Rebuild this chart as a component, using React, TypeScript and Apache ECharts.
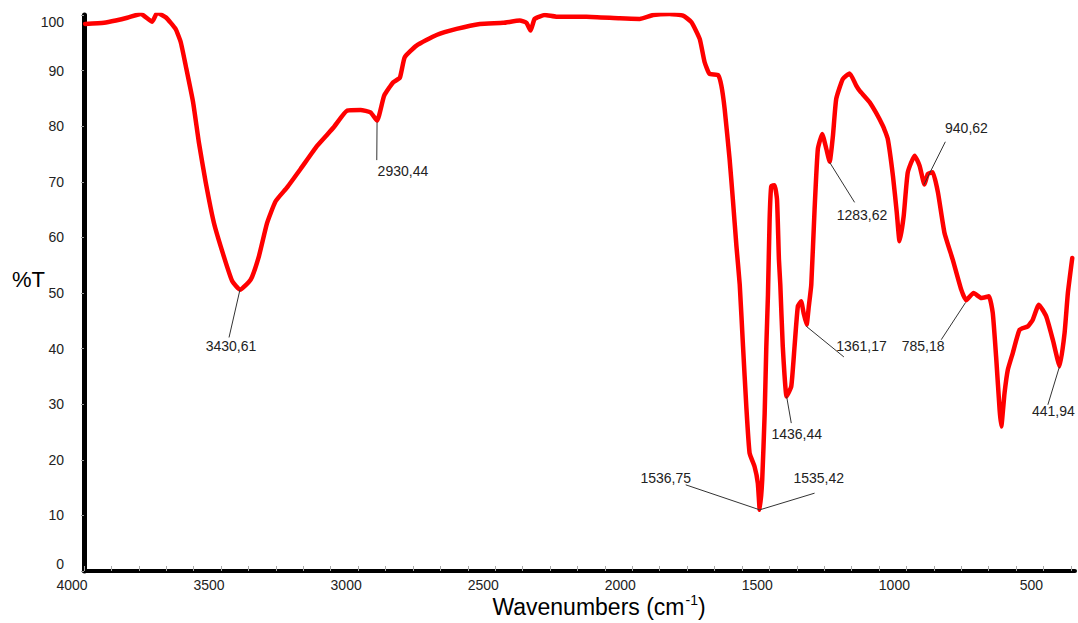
import React, { useEffect, useRef } from 'react';
import * as echarts from 'echarts';

const wavenumbers = [
  3996, 3927, 3884, 3842, 3793, 3751, 3733, 3702, 3666, 3647, 3629, 3602, 3581, 3556, 3526, 3490, 3459, 3431,
  3392, 3362, 3332, 3301, 3259, 3210, 3149, 3089, 3040, 2991, 2955, 2931, 2905, 2872, 2848, 2830, 2787, 2714,
  2641, 2556, 2471, 2410, 2386, 2371, 2356, 2319, 2277, 2167, 2046, 1973, 1924, 1864, 1815, 1784, 1754, 1736,
  1718, 1687, 1675, 1663, 1645, 1633, 1620, 1608, 1596, 1584, 1572, 1554, 1542, 1535, 1526, 1517, 1511, 1505,
  1499, 1493, 1481, 1472, 1465, 1460, 1451, 1437, 1420, 1408, 1396, 1384, 1375, 1364, 1356, 1347, 1335, 1323,
  1307, 1292, 1280, 1268, 1256, 1232, 1207, 1183, 1171, 1134, 1086, 1068, 1049, 1035, 1025, 1010, 995, 970,
  952, 934, 922, 904, 885, 861, 831, 800, 782, 755, 727, 699, 685, 672, 660, 654, 642, 630, 612, 587, 557, 539,
  517, 490, 466, 441, 423, 411, 395,
];

const transmittance = [
  98.4, 98.6, 99.0, 99.5, 100.2, 98.8, 100.4, 99.6, 97.5, 95.1, 90.9, 84.3, 77.1, 69.9, 62.6, 56.6, 52.1, 50.6,
  52.4, 56.6, 62.6, 66.5, 69.0, 72.3, 76.5, 79.8, 82.8, 82.9, 82.5, 81.0, 85.5, 87.9, 88.7, 92.4, 94.5, 96.4,
  97.5, 98.4, 98.6, 99.0, 98.6, 97.2, 99.3, 100.0, 99.7, 99.7, 99.4, 99.3, 100.0, 100.2, 99.9, 98.7, 95.7, 91.5,
  89.4, 89.2, 87.3, 83.1, 74.1, 66.8, 58.4, 51.5, 40.4, 29.6, 21.2, 18.8, 15.8, 11.0, 16.4, 28.4, 40.4, 49.7,
  63.2, 69.2, 69.4, 66.8, 56.0, 51.5, 40.4, 31.4, 33.2, 40.4, 47.6, 48.5, 46.4, 44.3, 47.6, 51.5, 65.0, 75.9,
  78.6, 75.9, 73.6, 78.3, 84.9, 88.5, 89.5, 87.3, 86.4, 84.3, 80.1, 77.7, 71.0, 64.4, 59.3, 63.8, 71.7, 74.7,
  72.9, 69.5, 71.4, 71.7, 68.1, 60.8, 56.0, 50.6, 48.7, 50.0, 49.1, 49.4, 46.4, 38.0, 29.0, 26.0, 32.0, 36.2,
  39.2, 43.4, 44.0, 45.2, 47.9, 45.8, 41.6, 36.8, 42.8, 50.0, 56.3,
];

const xLabelValues = [500, 1000, 1500, 2000, 2500, 3000, 3500, 4000];
const xTickValues = [
  400, 500, 600, 700, 800, 900, 1000, 1100, 1200, 1300, 1400, 1500, 1600, 1700, 1800, 1900, 2000, 2100, 2200,
  2300, 2400, 2500, 2600, 2700, 2800, 2900, 3000, 3100, 3200, 3300, 3400, 3500, 3600, 3700, 3800, 3900, 4000,
];

// Peak annotations (data coordinates: wavenumber, %T)
const annLabels = ['3430,61', '2930,44', '1536,75', '1535,42', '1436,44', '1361,17', '1283,62', '940,62', '785,18', '441,94'];
const annPeakWn = [3431, 2931, 1535, 1535, 1437, 1365, 1280, 936, 784, 442];
const annPeakT = [50.6, 80.7, 11.0, 11.0, 31.4, 44.0, 73.5, 69.5, 48.3, 36.7];
const annEndWn = [3471, 2932, 1805, 1335, 1420, 1228, 1189, 858, 873, 484];
const annEndT = [42.0, 73.9, 15.5, 14.0, 26.6, 38.5, 66.3, 77.2, 41.6, 29.9];
const annTextWn = [3464, 2929, 1878, 1320, 1400, 1256, 1162, 781, 939, 464];
const annTextT = [40.4, 71.9, 16.8, 16.7, 24.7, 40.4, 64.0, 79.6, 40.4, 28.7];
const annAlign = ['center', 'left', 'center', 'center', 'center', 'left', 'center', 'center', 'center', 'center'];

const FONT = '"Liberation Sans", Arial, sans-serif';

export default function App() {
  const ref = useRef<HTMLDivElement>(null);

  useEffect(() => {
    if (!ref.current) return;
    const chart = echarts.init(ref.current, undefined, { renderer: 'svg' });
    const lineData = wavenumbers.map((w, i) => [w, transmittance[i]]);
    const annData = annLabels.map((_, i) => [annPeakWn[i], annPeakT[i]]);

    chart.setOption({
      animation: false,
      backgroundColor: '#ffffff',
      grid: { left: 84, right: 3, top: 15, bottom: 52 },
      xAxis: {
        type: 'value',
        inverse: true,
        min: 385,
        max: 4000,
        axisLine: { show: true, onZero: false, lineStyle: { color: '#000', width: 4 } },
        axisTick: {
          show: true,
          inside: true,
          length: 5,
          customValues: xTickValues,
          lineStyle: { color: '#aaa', width: 1 },
        },
        axisLabel: {
          customValues: xLabelValues,
          formatter: (v: number) => String(v),
          color: '#222',
          fontSize: 14,
          fontFamily: FONT,
          margin: 7,
          padding: [0, 24, 0, 0],
        },
        splitLine: { show: false },
      },
      yAxis: {
        type: 'value',
        min: 0,
        max: 100,
        interval: 10,
        axisLine: { show: true, onZero: false, lineStyle: { color: '#000', width: 5 } },
        axisTick: { show: true, length: 3, lineStyle: { color: '#999', width: 1 } },
        axisLabel: {
          color: '#222',
          fontSize: 14,
          fontFamily: FONT,
          margin: 20,
          verticalAlignMaxLabel: 'top',
          verticalAlignMinLabel: 'bottom',
        },
        splitLine: { show: false },
      },
      graphic: [
        {
          type: 'text',
          left: 12,
          top: 268,
          style: { text: '%T', font: `22px ${FONT}`, fill: '#000' },
        },
        {
          type: 'text',
          x: 599,
          y: 607,
          style: {
            text: '{a|Wavenumbers (cm}{b|-1}{a|)}',
            align: 'center',
            verticalAlign: 'middle',
            fill: '#000',
            rich: {
              a: { fontSize: 23, fontFamily: FONT, fill: '#000', lineHeight: 28 },
              b: { fontSize: 14, fontFamily: FONT, fill: '#000', verticalAlign: 'top', lineHeight: 28, padding: [0, 0, 10, 1] },
            },
          },
        },
      ],
      series: [
        {
          type: 'line',
          data: lineData,
          showSymbol: false,
          symbol: 'none',
          smooth: 0.15,
          lineStyle: { color: '#ff0000', width: 4.5, join: 'round', cap: 'round' },
          z: 2,
        },
        {
          type: 'custom',
          data: annData,
          clip: false,
          z: 5,
          renderItem: (params: any, api: any) => {
            const i = params.dataIndex;
            const p = api.coord([annPeakWn[i], annPeakT[i]]);
            const e = api.coord([annEndWn[i], annEndT[i]]);
            const t = api.coord([annTextWn[i], annTextT[i]]);
            return {
              type: 'group',
              children: [
                {
                  type: 'line',
                  shape: { x1: p[0], y1: p[1], x2: e[0], y2: e[1] },
                  style: { stroke: '#333', lineWidth: 1 },
                },
                {
                  type: 'text',
                  x: t[0],
                  y: t[1],
                  style: {
                    text: annLabels[i],
                    fill: '#222',
                    font: `14px ${FONT}`,
                    align: annAlign[i],
                    verticalAlign: 'middle',
                  },
                },
              ],
            };
          },
        },
      ],
    });

    return () => chart.dispose();
  }, []);

  return (
    <div
      ref={ref}
      style={{ position: 'fixed', left: 0, top: 0, width: 1078, height: 623, background: '#fff' }}
    />
  );
}
